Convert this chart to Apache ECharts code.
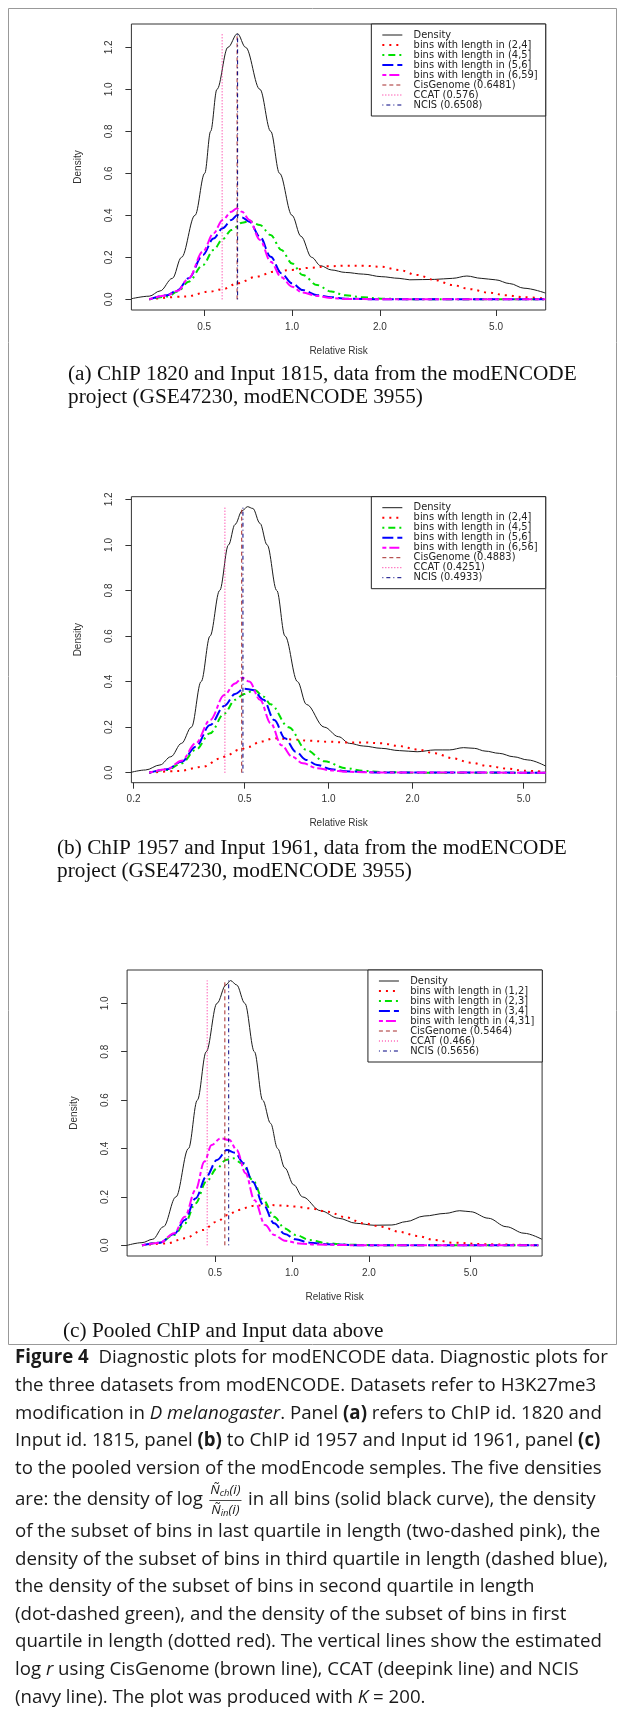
<!DOCTYPE html>
<html><head><meta charset="utf-8">
<script src="https://cdn.jsdelivr.net/npm/echarts@6/dist/echarts.min.js"></script>
<style>html,body{margin:0;padding:0;background:#fff}#c{width:625px;height:1723px}</style>
</head><body><div id="c"></div>
<script>
// ---------------- DATA ----------------
const xTicksA = [0.5, 1.0, 2.0, 5.0];
const xTicksB = [0.2, 0.5, 1.0, 2.0, 5.0];
const xTicksC = [0.5, 1.0, 2.0, 5.0];
const yTicksAB = [0, 0.2, 0.4, 0.6, 0.8, 1.0, 1.2];
const yTicksC = [0, 0.2, 0.4, 0.6, 0.8, 1.0];

const curveNamesA = ['Density', 'bins with length in (2,4]', 'bins with length in (4,5]', 'bins with length in (5,6]', 'bins with length in (6,59]'];
const curveNamesB = ['Density', 'bins with length in (2,4]', 'bins with length in (4,5]', 'bins with length in (5,6]', 'bins with length in (6,56]'];
const curveNamesC = ['Density', 'bins with length in (1,2]', 'bins with length in (2,3]', 'bins with length in (3,4]', 'bins with length in (4,31]'];
const estimatorNames = ['CisGenome', 'CCAT', 'NCIS'];
const estimatesA = [0.6481, 0.576, 0.6508];
const estimatesB = [0.4883, 0.4251, 0.4933];
const estimatesC = [0.5464, 0.466, 0.5656];

// Panel (a)
const aDensX = [0.282, 0.324, 0.353, 0.389, 0.418, 0.465, 0.502, 0.526, 0.553, 0.603, 0.650, 0.693, 0.776, 0.845, 0.906, 1.0, 1.073, 1.167, 1.253, 1.363, 1.525, 1.756, 2.021, 2.327, 2.532, 3.084, 3.55, 3.973, 4.447, 4.976, 5.571, 6.233, 7.381];
const aDensY = [0.003, 0.015, 0.04, 0.1, 0.2, 0.4, 0.6, 0.8, 1.0, 1.2, 1.265, 1.2, 1.0, 0.8, 0.6, 0.4, 0.3, 0.2, 0.16, 0.14, 0.128, 0.12, 0.108, 0.1, 0.093, 0.095, 0.1, 0.111, 0.1, 0.093, 0.075, 0.053, 0.03];
const aRedX = [0.324, 0.43, 0.523, 0.578, 0.650, 0.755, 0.869, 1.0, 1.151, 1.325, 1.525, 1.756, 2.021, 2.327, 2.679, 3.084, 3.55, 4.086, 4.705, 5.415, 6.233, 7.381];
const aRedY = [0.0, 0.013, 0.037, 0.048, 0.076, 0.108, 0.132, 0.14, 0.15, 0.157, 0.16, 0.16, 0.155, 0.14, 0.116, 0.092, 0.068, 0.048, 0.032, 0.019, 0.01, 0.003];
const aGreenX = [0.324, 0.373, 0.406, 0.442, 0.495, 0.538, 0.578, 0.620, 0.674, 0.714, 0.776, 0.845, 0.919, 1.0, 1.088, 1.218, 1.363, 1.525, 1.756, 2.021, 2.679, 7.381];
const aGreenY = [0.0, 0.013, 0.037, 0.084, 0.163, 0.235, 0.286, 0.33, 0.365, 0.372, 0.354, 0.306, 0.235, 0.171, 0.116, 0.068, 0.037, 0.019, 0.01, 0.003, 0.0, 0.0];
const aBlueX = [0.324, 0.373, 0.406, 0.442, 0.495, 0.538, 0.578, 0.620, 0.650, 0.674, 0.714, 0.776, 0.845, 0.919, 1.0, 1.088, 1.218, 1.363, 1.525, 2.021, 7.381];
const aBlueY = [0.0, 0.02, 0.044, 0.1, 0.211, 0.29, 0.338, 0.378, 0.402, 0.39, 0.37, 0.298, 0.203, 0.124, 0.076, 0.044, 0.02, 0.01, 0.003, 0.0, 0.0];
const aMagX = [0.324, 0.373, 0.406, 0.442, 0.495, 0.538, 0.578, 0.620, 0.646, 0.674, 0.714, 0.776, 0.845, 0.919, 1.0, 1.088, 1.218, 1.363, 1.525, 2.021, 7.381];
const aMagY = [0.0, 0.019, 0.041, 0.1, 0.227, 0.314, 0.378, 0.417, 0.433, 0.417, 0.378, 0.283, 0.179, 0.105, 0.06, 0.032, 0.016, 0.006, 0.002, 0.0, 0.0];

// Panel (b)
const bDensX = [0.1965, 0.2209, 0.2488, 0.2719, 0.2972, 0.3225, 0.3494, 0.376, 0.4071, 0.4379, 0.4622, 0.4901, 0.5123, 0.5354, 0.5678, 0.6023, 0.6521, 0.698, 0.7738, 0.8328, 0.9652, 1.086, 1.187, 1.335, 1.547, 1.793, 2.077, 2.407, 2.708, 3.047, 3.329, 3.636, 4.09, 4.602, 5.178, 6.0];
const bDensY = [0.002, 0.012, 0.034, 0.07, 0.129, 0.2, 0.4, 0.6, 0.8, 1.0, 1.09, 1.15, 1.168, 1.16, 1.095, 1.0, 0.8, 0.6, 0.4, 0.3, 0.2, 0.158, 0.129, 0.117, 0.107, 0.097, 0.092, 0.1, 0.1, 0.11, 0.107, 0.095, 0.085, 0.07, 0.056, 0.029];
const bRedX = [0.2276, 0.2884, 0.3545, 0.4107, 0.4358, 0.476, 0.5198, 0.5678, 0.6389, 0.7405, 0.8578, 0.994, 1.152, 1.335, 1.547, 1.793, 2.077, 2.407, 2.789, 3.232, 3.745, 4.339, 5.028, 6.0];
const bRedY = [0, 0.007, 0.026, 0.063, 0.078, 0.1, 0.114, 0.136, 0.151, 0.146, 0.14, 0.136, 0.133, 0.133, 0.129, 0.117, 0.102, 0.085, 0.063, 0.044, 0.029, 0.018, 0.009, 0.003];
const bGreenX = [0.2276, 0.2637, 0.2972, 0.3342, 0.376, 0.4231, 0.4622, 0.4973, 0.5433, 0.5849, 0.6203, 0.7189, 0.8328, 0.9652, 1.152, 1.335, 1.547, 2.077, 6.0];
const bGreenY = [0, 0.012, 0.041, 0.1, 0.173, 0.26, 0.32, 0.345, 0.363, 0.334, 0.3, 0.2, 0.1, 0.05, 0.02, 0.008, 0.003, 0, 0];
const bBlueX = [0.2276, 0.2637, 0.2972, 0.3342, 0.376, 0.4231, 0.4622, 0.4973, 0.5354, 0.5849, 0.6389, 0.698, 0.7627, 0.8328, 0.91, 1.024, 1.152, 1.547, 6.0];
const bBlueY = [0, 0.015, 0.048, 0.114, 0.209, 0.293, 0.345, 0.369, 0.363, 0.32, 0.231, 0.151, 0.092, 0.056, 0.034, 0.015, 0.006, 0.001, 0];
const bMagX = [0.2276, 0.2637, 0.2972, 0.3342, 0.376, 0.4231, 0.4622, 0.4901, 0.5198, 0.5678, 0.6203, 0.6777, 0.7405, 0.8089, 0.91, 1.024, 1.152, 1.547, 6.0];
const bMagY = [0, 0.015, 0.053, 0.129, 0.231, 0.341, 0.392, 0.417, 0.4, 0.32, 0.217, 0.121, 0.07, 0.041, 0.02, 0.01, 0.004, 0.001, 0];

// Panel (c)
const cDensX = [0.2265, 0.259, 0.2852, 0.3143, 0.3516, 0.3937, 0.4264, 0.462, 0.5091, 0.5516, 0.5751, 0.6075, 0.6542, 0.7131, 0.7681, 0.8248, 0.879, 0.9376, 1.016, 1.101, 1.294, 1.519, 1.784, 2.095, 2.461, 2.799, 3.288, 3.987, 4.535, 4.994, 5.866, 6.89, 8.091, 9.503];
const cDensY = [0.0, 0.011, 0.025, 0.077, 0.2, 0.4, 0.6, 0.8, 1.0, 1.076, 1.094, 1.076, 1.0, 0.8, 0.6, 0.504, 0.4, 0.32, 0.25, 0.2, 0.143, 0.112, 0.091, 0.083, 0.084, 0.098, 0.121, 0.132, 0.143, 0.139, 0.112, 0.077, 0.05, 0.025];
const cRedX = [0.259, 0.3247, 0.381, 0.4474, 0.5091, 0.5605, 0.6173, 0.7018, 0.7984, 0.9081, 1.033, 1.174, 1.379, 1.62, 1.903, 2.235, 2.624, 3.082, 3.621, 4.252, 5.866, 9.203];
const cRedY = [0, 0.008, 0.029, 0.063, 0.098, 0.125, 0.146, 0.163, 0.167, 0.165, 0.16, 0.153, 0.139, 0.116, 0.091, 0.077, 0.056, 0.039, 0.022, 0.011, 0.004, 0];
const cGreenX = [0.259, 0.3043, 0.3461, 0.381, 0.4198, 0.462, 0.5091, 0.5516, 0.5881, 0.6373, 0.7018, 0.7734, 0.8515, 0.9376, 1.033, 1.174, 1.379, 1.62, 2.235, 9.203];
const cGreenY = [0, 0.011, 0.043, 0.091, 0.174, 0.263, 0.318, 0.353, 0.36, 0.339, 0.27, 0.187, 0.118, 0.07, 0.043, 0.022, 0.008, 0.003, 0, 0];
const cBlueX = [0.259, 0.3043, 0.3461, 0.381, 0.4198, 0.462, 0.5091, 0.5567, 0.5978, 0.6478, 0.7018, 0.7734, 0.8515, 0.9376, 1.033, 1.174, 1.379, 1.903, 9.203];
const cBlueY = [0, 0.011, 0.047, 0.105, 0.194, 0.284, 0.353, 0.394, 0.383, 0.339, 0.263, 0.167, 0.091, 0.047, 0.025, 0.011, 0.004, 0, 0];
const cMagX = [0.259, 0.3043, 0.3461, 0.381, 0.4198, 0.4546, 0.4849, 0.5257, 0.5696, 0.6075, 0.6584, 0.7131, 0.7857, 0.8515, 0.9376, 1.066, 1.253, 1.903, 9.203];
const cMagY = [0, 0.011, 0.05, 0.118, 0.229, 0.346, 0.415, 0.442, 0.435, 0.394, 0.298, 0.187, 0.084, 0.043, 0.019, 0.008, 0.003, 0, 0];

// Texts
const captionA = ['(a) ChIP 1820 and Input 1815, data from the modENCODE', 'project (GSE47230, modENCODE 3955)'];
const captionB = ['(b) ChIP 1957 and Input 1961, data from the modENCODE', 'project (GSE47230, modENCODE 3955)'];
const captionC = ['(c) Pooled ChIP and Input data above'];
const xAxisTitle = 'Relative Risk';
const yAxisTitle = 'Density';
const paragraph = [
  '{b|Figure 4}  Diagnostic plots for modENCODE data. Diagnostic plots for',
  'the three datasets from modENCODE. Datasets refer to H3K27me3',
  'modification in {i|D melanogaster}. Panel {b|(a)} refers to ChIP id. 1820 and',
  'Input id. 1815, panel {b|(b)} to ChIP id 1957 and Input id 1961, panel {b|(c)}',
  'to the pooled version of the modEncode semples. The five densities',
  '',
  'of the subset of bins in last quartile in length (two-dashed pink), the',
  'density of the subset of bins in third quartile in length (dashed blue),',
  'the density of the subset of bins in second quartile in length',
  '(dot-dashed green), and the density of the subset of bins in first',
  'quartile in length (dotted red). The vertical lines show the estimated',
  'log {i|r} using CisGenome (brown line), CCAT (deepink line) and NCIS',
  '(navy line). The plot was produced with {i|K} = 200.'
];
const line6Pre = 'are: the density of log';
const line6Post = 'in all bins (solid black curve), the density';

// ---------------- LAYOUT / STYLE ----------------
const AXF = '"Liberation Sans", Arial, sans-serif';
const LGF = '"DejaVu Sans", sans-serif';
const SERIF = '"Liberation Serif", serif';
const SANS = '"Open Sans", sans-serif';
const curveStyles = [
  {color: '#1c1c1c', width: 1, type: 'solid'},
  {color: '#ff0000', width: 2, type: [2, 5]},
  {color: '#00e000', width: 2, type: [2, 4, 7, 4]},
  {color: '#0000ff', width: 2, type: [11, 4]},
  {color: '#ff00ff', width: 2, type: [4, 3, 10, 3]}
];
const vertStyles = [
  {color: '#a52a2a', width: 1, type: [4, 3]},
  {color: '#ff1493', width: 1, type: [1, 2]},
  {color: '#000080', width: 1, type: [1, 3, 4, 3]}
];
const panels = [
  {grid: {left: 131.4, top: 24, width: 414.3, height: 286}, xr: [0.2815, 7.40], yr: [-0.0508, 1.311],
   xt: xTicksA, yt: yTicksAB, names: curveNamesA, est: estimatesA, legendRight: 79.3,
   curves: [[aDensX, aDensY], [aRedX, aRedY], [aGreenX, aGreenY], [aBlueX, aBlueY], [aMagX, aMagY]]},
  {grid: {left: 131.4, top: 496.7, width: 414.3, height: 286}, xr: [0.1965, 6.0], yr: [-0.0439, 1.2118],
   xt: xTicksB, yt: yTicksAB, names: curveNamesB, est: estimatesB, legendRight: 79.3,
   curves: [[bDensX, bDensY], [bRedX, bRedY], [bGreenX, bGreenY], [bBlueX, bBlueY], [bMagX, bMagY]]},
  {grid: {left: 127.1, top: 970, width: 415, height: 286}, xr: [0.2265, 9.52], yr: [-0.0441, 1.1377],
   xt: xTicksC, yt: yTicksC, names: curveNamesC, est: estimatesC, legendRight: 82.7,
   curves: [[cDensX, cDensY], [cRedX, cRedY], [cGreenX, cGreenY], [cBlueX, cBlueY], [cMagX, cMagY]]}
];

const lg = Math.log10;
const grids = [], xAxes = [], yAxes = [], series = [], legends = [];
panels.forEach((p, i) => {
  grids.push(Object.assign({show: true, borderColor: '#333', borderWidth: 1, backgroundColor: 'transparent'}, p.grid));
  xAxes.push({
    type: 'value', gridIndex: i, min: lg(p.xr[0]), max: lg(p.xr[1]), position: 'bottom',
    axisLine: {show: false, onZero: false}, splitLine: {show: false},
    axisTick: {show: true, customValues: p.xt.map(lg), length: 6, lineStyle: {color: '#333', width: 1}},
    axisLabel: {show: true, customValues: p.xt.map(lg), margin: 12, fontSize: 10, fontFamily: AXF, color: '#333',
      formatter: v => Math.pow(10, v).toFixed(1)},
    name: xAxisTitle, nameLocation: 'middle', nameGap: 36,
    nameTextStyle: {fontSize: 10, fontFamily: AXF, color: '#333'}
  });
  yAxes.push({
    type: 'value', gridIndex: i, min: p.yr[0], max: p.yr[1], position: 'left',
    axisLine: {show: false, onZero: false}, splitLine: {show: false},
    axisTick: {show: true, customValues: p.yt, length: 6, lineStyle: {color: '#333', width: 1}},
    axisLabel: {show: true, customValues: p.yt, margin: 17, rotate: 90, fontSize: 10, fontFamily: AXF, color: '#333',
      formatter: v => v.toFixed(1)},
    name: yAxisTitle, nameLocation: 'middle', nameGap: 48, nameRotate: 90,
    nameTextStyle: {fontSize: 10, fontFamily: AXF, color: '#333'}
  });
  const legendData = [];
  p.curves.forEach((c, k) => {
    legendData.push(p.names[k]);
    series.push({
      type: 'line', name: p.names[k], xAxisIndex: i, yAxisIndex: i,
      data: c[0].map((x, j) => [lg(x), c[1][j]]),
      showSymbol: false, symbol: 'none', smooth: 0.35, smoothMonotone: 'x', silent: true,
      lineStyle: curveStyles[k], z: 2
    });
  });
  const maxD = Math.max(...p.curves[0][1]);
  p.est.forEach((v, k) => {
    const nm = estimatorNames[k] + ' (' + v + ')';
    legendData.push(nm);
    series.push({
      type: 'line', name: nm, xAxisIndex: i, yAxisIndex: i,
      data: [[lg(v), 0], [lg(v), maxD]],
      showSymbol: false, symbol: 'none', silent: true, lineStyle: vertStyles[k], z: 3
    });
  });
  legends.push({
    data: legendData, orient: 'vertical', top: p.grid.top, right: p.legendRight,
    itemWidth: 20, itemHeight: 8, itemGap: 0, padding: [6, 8, 6, 10],
    borderColor: '#222', borderWidth: 1, borderRadius: 0, backgroundColor: '#fff',
    selectedMode: false, formatter: '  {name}',
    textStyle: {fontSize: 9.9, fontFamily: LGF, color: '#222', lineHeight: 8},
    itemStyle: {opacity: 0}, lineStyle: {width: 'inherit'}
  });
});

// ---------- text measuring ----------
const mctx = document.createElement('canvas').getContext('2d');
function tw(text, size, family, weight, style) {
  mctx.font = (style || 'normal') + ' ' + (weight || 'normal') + ' ' + size + 'px ' + family;
  return mctx.measureText(text).width;
}
const l1Bold = 'Figure 4', l1Rest = '  Diagnostic plots for modENCODE data. Diagnostic plots for';
const ps = 100 * 593 / (tw(l1Bold, 100, SANS, 'bold') + tw(l1Rest, 100, SANS));
const cs = 100 * 509 / tw(captionA[0], 100, SERIF);

const graphics = [];
graphics.push({type: 'rect', shape: {x: 8.5, y: 8.5, width: 608, height: 1336}, style: {fill: 'transparent', stroke: '#999', lineWidth: 1}, z: -10, silent: true});
function capText(x, y, t) {
  graphics.push({type: 'text', x: x, y: y, silent: true,
    style: {text: t, fontSize: cs, fontFamily: SERIF, fill: '#111', verticalAlign: 'middle', align: 'left'}});
}
capText(68, 374, captionA[0]); capText(68, 397.5, captionA[1]);
capText(57, 848, captionB[0]); capText(57, 871.5, captionB[1]);
capText(63, 1331, captionC[0]);

const richP = {
  b: {fontWeight: 'bold', fontSize: ps, fontFamily: SANS, fill: '#1a1a1a'},
  i: {fontStyle: 'italic', fontSize: ps, fontFamily: SANS, fill: '#1a1a1a'}
};
const pX = 15;
const lineYs = [];
for (let k = 0; k < paragraph.length; k++) {
  let y = 1358 + k * 27.6;
  if (k >= 5) y += 4;
  if (k >= 6) y += 4;
  lineYs.push(y);
}
paragraph.forEach((t, k) => {
  if (k === 5) return;
  graphics.push({type: 'text', x: pX, y: lineYs[k], silent: true,
    style: {text: t, fontSize: ps, fontFamily: SANS, fill: '#1a1a1a', verticalAlign: 'middle', align: 'left', rich: richP}});
});
// line 6 with fraction
(function () {
  const y = lineYs[5];
  graphics.push({type: 'text', x: pX, y: y, silent: true,
    style: {text: line6Pre, fontSize: ps, fontFamily: SANS, fill: '#1a1a1a', verticalAlign: 'middle', align: 'left'}});
  const fs = ps * 0.72, ss = fs * 0.7;
  const numW = tw('Ñ', fs, SANS, 'normal', 'italic') + tw('ch', ss, SANS, 'normal', 'italic') + tw('(i)', fs, SANS, 'normal', 'italic');
  const denW = tw('Ñ', fs, SANS, 'normal', 'italic') + tw('in', ss, SANS, 'normal', 'italic') + tw('(i)', fs, SANS, 'normal', 'italic');
  const fw = Math.max(numW, denW) + 2;
  const fl = pX + tw(line6Pre, ps, SANS) + ps * 0.35;
  const cx = fl + fw / 2;
  const richF = {
    n: {fontSize: fs, fontStyle: 'italic', fontFamily: SANS, fill: '#1a1a1a', lineHeight: fs * 1.15, verticalAlign: 'middle'},
    s: {fontSize: ss, fontStyle: 'italic', fontFamily: SANS, fill: '#1a1a1a', lineHeight: ss, verticalAlign: 'bottom'}
  };
  graphics.push({type: 'text', x: cx, y: y - fs * 0.72, silent: true,
    style: {text: '{n|Ñ}{s|ch}{n|(i)}', rich: richF, align: 'center', verticalAlign: 'middle'}});
  graphics.push({type: 'text', x: cx, y: y + fs * 0.78, silent: true,
    style: {text: '{n|Ñ}{s|in}{n|(i)}', rich: richF, align: 'center', verticalAlign: 'middle'}});
  graphics.push({type: 'line', silent: true, shape: {x1: fl, y1: y + 0.5, x2: fl + fw, y2: y + 0.5},
    style: {stroke: '#1a1a1a', lineWidth: 0.8}});
  graphics.push({type: 'text', x: fl + fw + ps * 0.35, y: y, silent: true,
    style: {text: line6Post, fontSize: ps, fontFamily: SANS, fill: '#1a1a1a', verticalAlign: 'middle', align: 'left'}});
})();

const chart = echarts.init(document.getElementById('c'), null, {renderer: 'canvas'});
chart.setOption({
  animation: false,
  backgroundColor: '#fff',
  grid: grids, xAxis: xAxes, yAxis: yAxes, series: series, legend: legends,
  graphic: graphics
});
</script></body></html>
